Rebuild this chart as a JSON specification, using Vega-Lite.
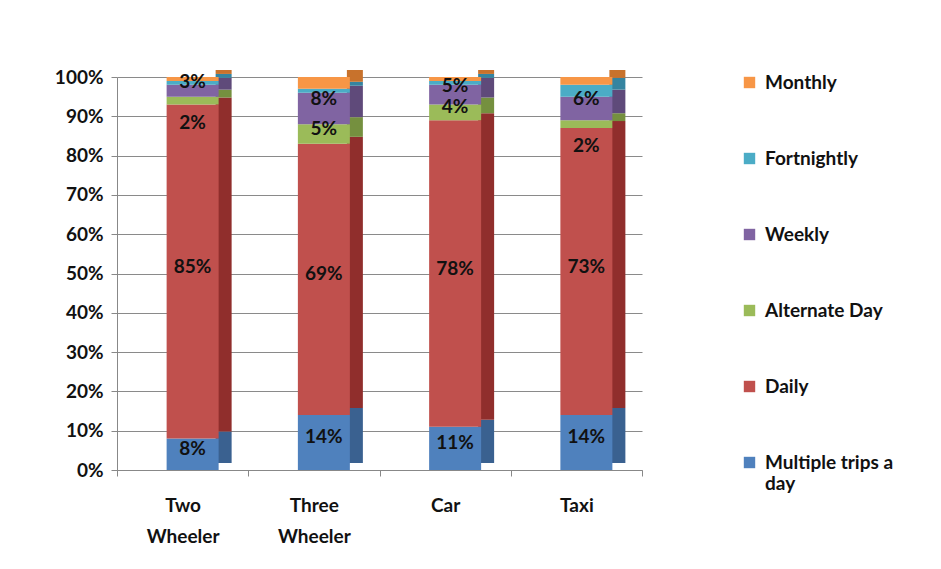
{
  "$schema": "https://vega.github.io/schema/vega-lite/v6.json",
  "width": 525,
  "height": 393,
  "autosize": {"type": "none"},
  "padding": {"left": 117, "top": 77, "right": 299, "bottom": 99},
  "background": "white",
  "data": {
    "values": [
      {"mode": "Two Wheeler", "freq": "Multiple trips a day", "k": 1, "pct": 0.08},
      {"mode": "Two Wheeler", "freq": "Daily", "k": 2, "pct": 0.85},
      {"mode": "Two Wheeler", "freq": "Alternate Day", "k": 3, "pct": 0.02},
      {"mode": "Two Wheeler", "freq": "Weekly", "k": 4, "pct": 0.03},
      {"mode": "Two Wheeler", "freq": "Fortnightly", "k": 5, "pct": 0.01},
      {"mode": "Two Wheeler", "freq": "Monthly", "k": 6, "pct": 0.01},
      {"mode": "Three Wheeler", "freq": "Multiple trips a day", "k": 1, "pct": 0.14},
      {"mode": "Three Wheeler", "freq": "Daily", "k": 2, "pct": 0.69},
      {"mode": "Three Wheeler", "freq": "Alternate Day", "k": 3, "pct": 0.05},
      {"mode": "Three Wheeler", "freq": "Weekly", "k": 4, "pct": 0.08},
      {"mode": "Three Wheeler", "freq": "Fortnightly", "k": 5, "pct": 0.01},
      {"mode": "Three Wheeler", "freq": "Monthly", "k": 6, "pct": 0.03},
      {"mode": "Car", "freq": "Multiple trips a day", "k": 1, "pct": 0.11},
      {"mode": "Car", "freq": "Daily", "k": 2, "pct": 0.78},
      {"mode": "Car", "freq": "Alternate Day", "k": 3, "pct": 0.04},
      {"mode": "Car", "freq": "Weekly", "k": 4, "pct": 0.05},
      {"mode": "Car", "freq": "Fortnightly", "k": 5, "pct": 0.01},
      {"mode": "Car", "freq": "Monthly", "k": 6, "pct": 0.01},
      {"mode": "Taxi", "freq": "Multiple trips a day", "k": 1, "pct": 0.14},
      {"mode": "Taxi", "freq": "Daily", "k": 2, "pct": 0.73},
      {"mode": "Taxi", "freq": "Alternate Day", "k": 3, "pct": 0.02},
      {"mode": "Taxi", "freq": "Weekly", "k": 4, "pct": 0.06},
      {"mode": "Taxi", "freq": "Fortnightly", "k": 5, "pct": 0.03},
      {"mode": "Taxi", "freq": "Monthly", "k": 6, "pct": 0.02}
    ]
  },
  "transform": [
    {"stack": "pct", "groupby": ["mode"], "sort": [{"field": "k", "order": "ascending"}], "as": ["lo", "hi"]},
    {"calculate": "(datum.lo + datum.hi) / 2", "as": "mid"}
  ],
  "encoding": {
    "x": {
      "field": "mode",
      "type": "nominal",
      "sort": ["Two Wheeler", "Three Wheeler", "Car", "Taxi"],
      "scale": {"paddingInner": 0, "paddingOuter": 0},
      "axis": {
        "title": null,
        "labelAngle": 0,
        "labelFont": "Lato",
        "labelFontWeight": "bold",
        "labelFontSize": 19,
        "labelColor": "#111111",
        "labelPadding": 20,
        "labelLineHeight": 31,
        "labelExpr": "split(datum.label, ' ')",
        "domainColor": "#888888",
        "tickColor": "#888888",
        "tickBand": "extent",
        "tickSize": 6
      }
    },
    "y": {
      "type": "quantitative",
      "scale": {"domain": [0, 1], "nice": false},
      "axis": {
        "title": null,
        "format": ".0%",
        "values": [0, 0.1, 0.2, 0.3, 0.4, 0.5, 0.6, 0.7, 0.8, 0.9, 1],
        "labelFont": "Lato",
        "labelFontWeight": "bold",
        "labelFontSize": 19,
        "labelColor": "#111111",
        "labelPadding": 8,
        "domainColor": "#888888",
        "tickColor": "#888888",
        "tickSize": 6,
        "gridColor": "#8a8a8a",
        "gridWidth": 1
      }
    }
  },
  "layer": [
    {
      "mark": {"type": "bar", "width": 16, "xOffset": 41, "yOffset": -7, "y2Offset": -7},
      "encoding": {
        "y": {"field": "lo", "type": "quantitative"},
        "y2": {"field": "hi"},
        "color": {
          "field": "freq",
          "type": "nominal",
          "scale": {
            "domain": ["Monthly", "Fortnightly", "Weekly", "Alternate Day", "Daily", "Multiple trips a day"],
            "range": ["#C8722C", "#3584A0", "#5F4A7A", "#75903F", "#902E2C", "#3A6190"]
          },
          "legend": null
        }
      }
    },
    {
      "mark": {"type": "bar", "width": 52, "xOffset": 10},
      "encoding": {
        "y": {"field": "lo", "type": "quantitative"},
        "y2": {"field": "hi"},
        "color": {
          "field": "freq",
          "type": "nominal",
          "scale": {
            "domain": ["Monthly", "Fortnightly", "Weekly", "Alternate Day", "Daily", "Multiple trips a day"],
            "range": ["#F79646", "#4BACC6", "#8064A2", "#9BBB59", "#C0504D", "#4F81BD"]
          },
          "legend": {
            "title": null,
            "orient": "none",
            "legendX": 623,
            "legendY": -4,
            "symbolType": "square",
            "symbolSize": 130,
            "symbolStrokeWidth": 0,
            "labelFont": "Lato",
            "labelFontWeight": "bold",
            "labelFontSize": 19,
            "labelColor": "#111111",
            "labelLimit": 300,
            "labelOffset": 6,
            "labelLineHeight": 26,
            "labelBaseline": "middle",
            "rowPadding": 56,
            "labelExpr": "datum.label == 'Multiple trips a day' ? ['Multiple trips a', 'day'] : datum.label"
          }
        }
      }
    },
    {
      "transform": [{"filter": "datum.k <= 2 || (datum.k == 3 && datum.pct > 0.02)"}],
      "mark": {"type": "text", "xOffset": 10, "dy": -5, "font": "Lato", "fontWeight": "bold", "fontSize": 19, "color": "#111111", "baseline": "middle"},
      "encoding": {
        "y": {"field": "mid", "type": "quantitative"},
        "text": {"field": "pct", "type": "quantitative", "format": ".0%"}
      }
    },
    {
      "transform": [{"filter": "datum.k == 4"}],
      "mark": {"type": "text", "xOffset": 10, "dy": -9, "font": "Lato", "fontWeight": "bold", "fontSize": 19, "color": "#111111", "baseline": "middle"},
      "encoding": {
        "y": {"field": "mid", "type": "quantitative"},
        "text": {"field": "pct", "type": "quantitative", "format": ".0%"}
      }
    },
    {
      "transform": [{"filter": "datum.k == 3 && datum.pct <= 0.02"}],
      "mark": {"type": "text", "xOffset": 10, "dy": 22, "font": "Lato", "fontWeight": "bold", "fontSize": 19, "color": "#111111", "baseline": "middle"},
      "encoding": {
        "y": {"field": "mid", "type": "quantitative"},
        "text": {"field": "pct", "type": "quantitative", "format": ".0%"}
      }
    }
  ],
  "resolve": {"scale": {"color": "independent"}},
  "config": {"view": {"stroke": null}}
}
